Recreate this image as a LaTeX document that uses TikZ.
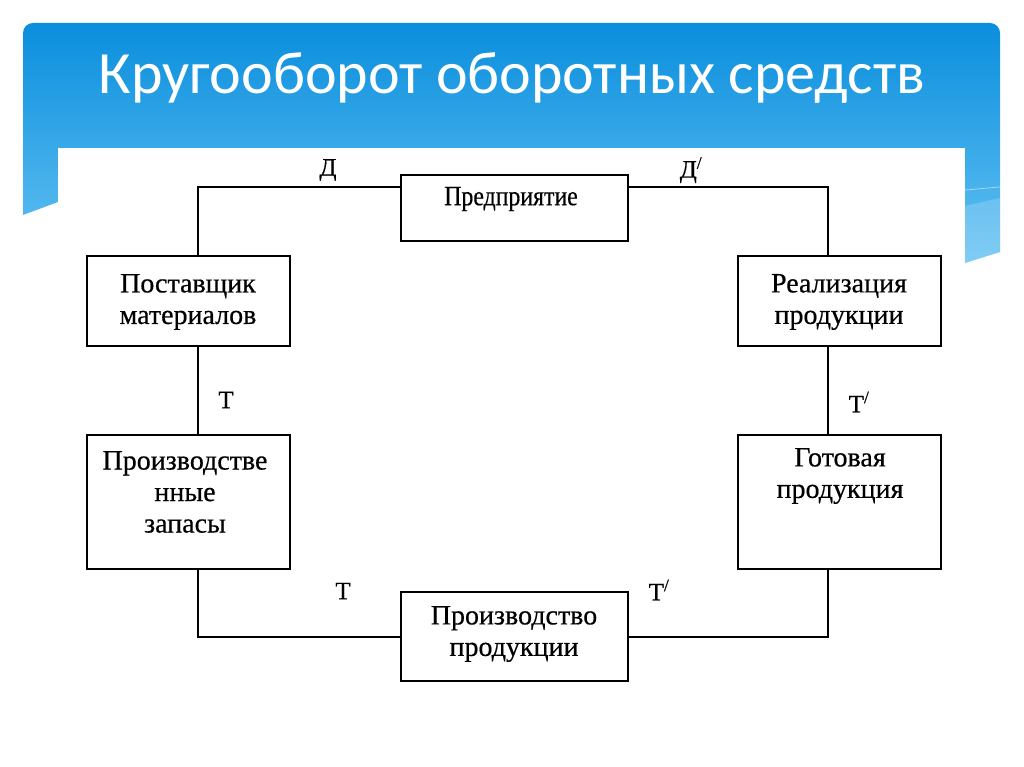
\documentclass[tikz,border=0pt]{standalone}
\usepackage{fontspec}
\setmainfont{Liberation Serif}[FakeBold=0.5]
\newfontfamily\titlefont{Carlito}
\definecolor{bantop}{RGB}{10,142,221}
\definecolor{banbot}{RGB}{105,197,244}
\tikzset{
  box/.style={draw=black, line width=2pt, fill=white, inner sep=0pt},
  boxtext/.style={align=center, font=\fontsize{28}{31.5}\selectfont, inner sep=0pt},
  lbl/.style={font=\fontsize{25}{28}\selectfont, inner sep=0pt},
  conn/.style={line width=2pt, black}
}
\begin{document}
\begin{tikzpicture}[x=1pt,y=-1pt]
\useasboundingbox (0,0) rectangle (1024,767);
\fill[white] (0,0) rectangle (1024,767);
% banner
\begin{scope}
  \clip (23,215) -- (23,0) -- (1000,0) -- (1000,252) -- (965,263) -- (965,250) -- (58,202) -- cycle;
  \shade[top color=bantop, bottom color=banbot, rounded corners=10pt] (23,23) rectangle (1000,275);
\end{scope}
\fill[white, opacity=0.18] (965,206) -- (1000,198) -- (1000,252) -- (965,263) -- cycle;
\draw[white, opacity=0.5, line width=0.8pt] (965,190) -- (1000,187);
\fill[white] (58,148) rectangle (965,767);
\node[text=white, font=\titlefont\fontsize{60}{62}\selectfont, inner sep=0pt, anchor=base] (title) at (512,94) {Кругооборот оборотных средств};
% boxes
\node[box, minimum width=227pt, minimum height=66pt] (pr) at (514.5,208) {};
\node[box, minimum width=203pt, minimum height=90pt] (post) at (188.5,301) {};
\node[box, minimum width=203pt, minimum height=90pt] (real) at (839.5,301) {};
\node[box, minimum width=203pt, minimum height=134pt] (zap) at (188.5,502) {};
\node[box, minimum width=203pt, minimum height=134pt] (got) at (839.5,502) {};
\node[box, minimum width=227pt, minimum height=89pt] (pp) at (514.5,636.5) {};
% texts
\node[boxtext] (prt) at (511,199) {\scalebox{0.85}[1]{Предприятие}};
\node[boxtext] (postt) at (188,302) {Поставщик\\материалов};
\node[boxtext] (realt) at (839,302) {Реализация\\продукции};
\node[boxtext] (zapt) at (185,492) {Производстве\\нные\\запасы};
\node[boxtext] (gott) at (840,476) {Готовая\\продукция};
\node[boxtext] (ppt) at (514,634) {Производство\\продукции};
% connectors
\draw[conn] ([xshift=9.5pt]post.north) |- ([yshift=-13pt]pr.north west);
\draw[conn] ([yshift=-13pt]pr.north east) -| ([xshift=-11.5pt]real.north);
\draw[conn] ([xshift=9.5pt]post.south) -- ([xshift=9.5pt]zap.north);
\draw[conn] ([xshift=-11.5pt]real.south) -- ([xshift=-11.5pt]got.north);
\draw[conn] ([xshift=9.5pt]zap.south) |- (pp.west);
\draw[conn] (pp.east) -| ([xshift=-11.5pt]got.south);
% labels
\node[lbl] (d1) at (328,170) {Д};
\node[lbl] (d2) at (691,170) {Д\textsuperscript{/}};
\node[lbl] (t1) at (226,400) {Т};
\node[lbl] (t2) at (859,402) {Т\textsuperscript{/}};
\node[lbl] (t3) at (343,591) {Т};
\node[lbl] (t4) at (659,590) {Т\textsuperscript{/}};
\end{tikzpicture}
\end{document}
